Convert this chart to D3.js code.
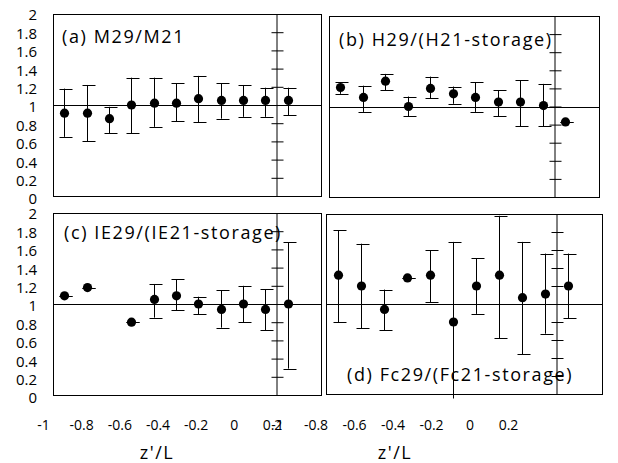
<!DOCTYPE html>
<html>
<head>
<meta charset="utf-8">
<script src="https://cdn.jsdelivr.net/npm/d3@7"></script>
<style>
  body { margin: 0; background: #fff; }
  svg text { font-family: "Open Sans", "Noto Sans", sans-serif; fill: #000; }
</style>
</head>
<body>
<svg id="chart" width="618" height="463"></svg>
<script>
////////////////////////////////////////////////////////////
//// Data //////////////////////////////////////////////////
////////////////////////////////////////////////////////////
const zPos = [-0.95, -0.85, -0.75, -0.65, -0.55, -0.45, -0.35, -0.25, -0.15, -0.05, 0.05];

// (a) M29/M21
const aVal = [0.91, 0.91, 0.85, 1.0, 1.02, 1.02, 1.07, 1.05, 1.05, 1.05, 1.05];
const aHi  = [1.18, 1.22, 0.98, 1.30, 1.30, 1.24, 1.32, 1.24, 1.22, 1.19, 1.19];
const aLo  = [0.65, 0.60, 0.69, 0.69, 0.76, 0.82, 0.81, 0.85, 0.87, 0.87, 0.89];

// (b) H29/(H21-storage)
const bVal = [1.21, 1.10, 1.28, 1.0, 1.20, 1.14, 1.10, 1.05, 1.05, 1.01, 0.83];
const bHi  = [1.27, 1.23, 1.36, 1.11, 1.33, 1.22, 1.27, 1.18, 1.29, 1.25, 0.83];
const bLo  = [1.14, 0.94, 1.18, 0.89, 1.09, 1.03, 0.94, 0.89, 0.78, 0.78, 0.83];

// (c) IE29/(IE21-storage), no value at -0.75
const cVal = [1.09, 1.18, null, 0.80, 1.05, 1.09, 1.0, 0.94, 1.0, 0.94, 1.0];
const cHi  = [1.09, 1.18, null, 0.80, 1.22, 1.27, 1.08, 1.15, 1.20, 1.16, 1.68];
const cLo  = [1.09, 1.18, null, 0.80, 0.85, 0.93, 0.89, 0.74, 0.80, 0.71, 0.29];

// (d) Fc29/(Fc21-storage)
const dVal = [1.32, 1.20, 0.94, 1.29, 1.32, 0.80, 1.20, 1.32, 1.07, 1.11, 1.20];
const dHi  = [1.82, 1.67, 1.16, 1.29, 1.60, 1.69, 1.51, 1.98, 1.69, 1.56, 1.56];
const dLo  = [0.80, 0.73, 0.71, 1.29, 1.02, -0.05, 0.89, 0.62, 0.44, 0.67, 0.84];

const panelTitles = ["(a) M29/M21", "(b) H29/(H21-storage)", "(c) IE29/(IE21-storage)", "(d) Fc29/(Fc21-storage)"];
const yTickValues = [0, 0.2, 0.4, 0.6, 0.8, 1, 1.2, 1.4, 1.6, 1.8, 2];
const xTickValues = [-1, -0.8, -0.6, -0.4, -0.2, 0, 0.2];
const xTitle = "z'/L";

////////////////////////////////////////////////////////////
//// Setup /////////////////////////////////////////////////
////////////////////////////////////////////////////////////
const svg = d3.select("#chart");
const fmt = d => String(+d.toFixed(1));

const panels = [
	{ val: aVal, hi: aHi, lo: aLo, box: [53, 321, 14, 196], title: [62, 43], yLabels: true },
	{ val: bVal, hi: bHi, lo: bLo, box: [329, 599, 16, 197], title: [339, 46], yLabels: false },
	{ val: cVal, hi: cHi, lo: cLo, box: [53, 321, 213, 395], title: [64, 239], yLabels: true },
	{ val: dVal, hi: dHi, lo: dLo, box: [326, 602, 214, 394], title: [347, 381], yLabels: false }
];

////////////////////////////////////////////////////////////
//// Render ////////////////////////////////////////////////
////////////////////////////////////////////////////////////
panels.forEach((p, i) => {
	const [x0, x1, y0, y1] = p.box;
	const x = d3.scaleLinear().domain([-1, 0.2]).range([x0, x1]);
	const y = d3.scaleLinear().domain([0, 2]).range([y1, y0]);
	const g = svg.append("g");

	// frame
	g.append("rect")
		.attr("x", x0 + 0.5).attr("y", y0 + 0.5)
		.attr("width", x1 - x0).attr("height", y1 - y0)
		.attr("fill", "none").attr("stroke", "#000").attr("stroke-width", 1);

	// reference line at ratio 1
	g.append("line")
		.attr("x1", x0).attr("x2", x1)
		.attr("y1", Math.round(y(1)) + 0.5).attr("y2", Math.round(y(1)) + 0.5)
		.attr("stroke", "#000");

	// axis through z'/L = 0, ticks crossing the line
	const yAxis = g.append("g")
		.attr("transform", `translate(${Math.round(x(0)) + 0.5},0)`)
		.call(d3.axisRight(y).tickValues(yTickValues.slice(1, -1)).tickSize(7).tickFormat("").tickSizeOuter(0));
	yAxis.selectAll(".tick line").attr("x1", -5).attr("stroke", "#000");
	yAxis.select(".domain").attr("stroke", "#000");

	// left labels
	if (p.yLabels) {
		const yl = d3.scaleLinear().domain([0, 2]).range([y1 + 3, y0 + 1]);
		svg.append("g")
			.attr("transform", "translate(37,0)")
			.call(d3.axisLeft(yl).tickValues(yTickValues).tickSize(0).tickPadding(0).tickFormat(fmt))
			.call(a => a.select(".domain").remove())
			.selectAll("text")
			.style("font-size", "15px")
			.style("font-family", "'Open Sans', sans-serif")
			.attr("fill", "#000");
	}

	// title
	g.append("text")
		.attr("x", p.title[0]).attr("y", p.title[1])
		.style("font-size", "18px")
		.style("letter-spacing", "1.6px")
		.text(panelTitles[i]);

	// error bars and points
	const pts = zPos.map((z, k) => ({ z, v: p.val[k], hi: p.hi[k], lo: p.lo[k] }))
		.filter(d => d.v !== null);

	const bars = g.selectAll(".bar").data(pts).join("g").attr("class", "bar")
		.attr("transform", d => `translate(${Math.round(x(d.z)) + 0.5},0)`);
	bars.append("line")
		.attr("y1", d => y(d.hi)).attr("y2", d => y(d.lo))
		.attr("stroke", "#000");
	bars.append("line")
		.attr("x1", -5).attr("x2", 8)
		.attr("y1", d => Math.round(y(d.hi)) + 0.5).attr("y2", d => Math.round(y(d.hi)) + 0.5)
		.attr("stroke", "#000");
	bars.filter(d => d.lo >= 0).append("line")
		.attr("x1", -5).attr("x2", 8)
		.attr("y1", d => Math.round(y(d.lo)) + 0.5).attr("y2", d => Math.round(y(d.lo)) + 0.5)
		.attr("stroke", "#000");
	bars.append("circle")
		.attr("cy", d => y(d.v)).attr("r", 4.6)
		.attr("fill", "#000");
});

// bottom tick labels (offset from the plot scales, as in the original)
const xLabelScales = [
	d3.scaleLinear().domain([-1, 0.2]).range([43, 272]),
	d3.scaleLinear().domain([-1, 0.2]).range([277, 508])
];
xLabelScales.forEach((xs, i) => {
	svg.append("g")
		.attr("transform", "translate(0,420)")
		.call(d3.axisBottom(xs).tickValues(xTickValues).tickSize(0).tickPadding(0).tickFormat(fmt))
		.call(a => a.select(".domain").remove())
		.selectAll("text")
		.style("font-size", "14px")
		.style("font-family", "'Open Sans', sans-serif")
		.attr("fill", "#000");

	svg.append("text")
		.attr("x", [157, 395][i]).attr("y", 459)
		.attr("text-anchor", "middle")
		.style("font-size", "18px")
		.style("letter-spacing", "1.5px")
		.text(xTitle);
});
</script>
</body>
</html>
